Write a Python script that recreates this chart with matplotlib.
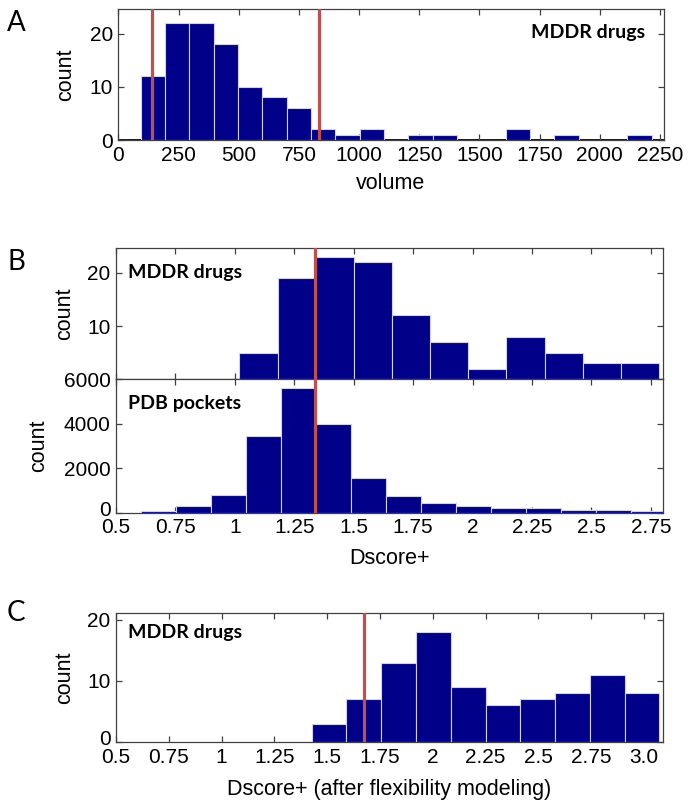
"""Recreate the three-panel volume / Dscore+ histogram figure."""

import matplotlib

matplotlib.use("Agg")
import matplotlib.pyplot as plt
import matplotlib.transforms as mtransforms
import numpy as np

plt.rcParams["font.family"] = ["Liberation Sans", "DejaVu Sans"]

# ---- data ----
VOLUME_COUNTS = [12, 22, 22, 18, 10, 8, 6, 2, 1, 2, 0, 1, 1, 0, 0, 2, 0, 1, 0, 0, 1]
VOLUME_RANGE = (92, 2215)
VOLUME_CUTOFFS = [140, 835]

DRUG_COUNTS = [5, 19, 23, 22, 12, 7, 2, 8, 5, 3, 3]
DRUG_RANGE = (1.019, 2.785)

POCKET_COUNTS = [70, 300, 780, 3430, 5600, 4000, 1540, 740, 415, 300, 220, 220, 120, 120, 60]
POCKET_RANGE = (0.604, 2.815)

DSCORE_CUTOFF = 1.336

FLEX_COUNTS = [3, 7, 13, 18, 9, 6, 7, 8, 11, 8]
FLEX_RANGE = (1.426, 3.073)
FLEX_CUTOFF = 1.676

DSCORE_TICKS = [0.5, 0.75, 1, 1.25, 1.5, 1.75, 2, 2.25, 2.5, 2.75]
DSCORE_TICK_LABELS = ["0.5", "0.75", "1", "1.25", "1.5", "1.75", "2", "2.25", "2.5", "2.75"]
FLEX_TICKS = [0.5, 0.75, 1, 1.25, 1.5, 1.75, 2, 2.25, 2.5, 2.75, 3.0]
FLEX_TICK_LABELS = ["0.5", "0.75", "1", "1.25", "1.5", "1.75", "2", "2.25", "2.5", "2.75", "3.0"]

BAR_COLOR = "#000088"
EDGE_COLOR = "#d0d0f4"
RED = "#c0504d"
SPINE = "#404040"
TICK_FS = 15
LABEL_FS = 15.5


def hist_bars(ax, counts, value_range):
    edges = np.linspace(value_range[0], value_range[1], len(counts) + 1)
    ax.bar(edges[:-1], counts, width=np.diff(edges), align="edge",
           color=BAR_COLOR, edgecolor=EDGE_COLOR, linewidth=0.8, zorder=2)
    return edges


def style(ax):
    for s in ax.spines.values():
        s.set_color(SPINE)
        s.set_linewidth(0.9)
    ax.tick_params(direction="in", top=True, right=True, length=4,
                   width=0.9, color=SPINE, labelsize=TICK_FS)
    ax.tick_params(axis="x", pad=4)
    ax.tick_params(axis="y", pad=4)


def lift_zero_label(ax):
    # nudge the y "0" label up a little so it sits above the first x label
    fig = ax.figure
    shift = mtransforms.ScaledTranslation(0, 3 / 72, fig.dpi_scale_trans)
    lbl = ax.get_yticklabels()[0]
    lbl.set_transform(lbl.get_transform() + shift)


def labels(ax, xlabel, ylabel, xy, yx):
    if xlabel:
        ax.set_xlabel(xlabel, fontsize=LABEL_FS, va="center")
        ax.xaxis.set_label_coords(0.5, xy)
    ax.set_ylabel(ylabel, fontsize=LABEL_FS, va="center")
    ax.yaxis.set_label_coords(yx, 0.5)


def tag(ax, text, x, y, ha="left"):
    ax.text(x, y, text, transform=ax.transAxes, ha=ha, va="center",
            fontsize=14, fontweight="bold", family="Lato", zorder=5)


fig = plt.figure(figsize=(6.95, 8.07), dpi=100)

# ---- panel A ----
axA = fig.add_axes([0.1704, 0.8265, 0.7844, 0.1623])
edges = hist_bars(axA, VOLUME_COUNTS, VOLUME_RANGE)
axA.axhline(0, color="black", lw=2.0, zorder=1)
axA.plot([edges[0], edges[-1]], [0, 0], color=BAR_COLOR, lw=2.0, zorder=1.5)
for v in VOLUME_CUTOFFS:
    axA.axvline(v, color=RED, lw=2.3, zorder=3)
axA.set_xlim(0, 2265)
axA.set_ylim(0, 24.6)
axA.set_xticks(range(0, 2251, 250))
axA.set_yticks([0, 10, 20])
style(axA)
labels(axA, "volume", "count", -0.33, -0.096)
tag(axA, "MDDR drugs", 0.966, 0.82, ha="right")

# ---- panel B ----
axB1 = fig.add_axes([0.167, 0.530, 0.7865, 0.1623])
axB2 = fig.add_axes([0.167, 0.3647, 0.7865, 0.1653])
hist_bars(axB1, DRUG_COUNTS, DRUG_RANGE)
hist_bars(axB2, POCKET_COUNTS, POCKET_RANGE)
for ax in (axB1, axB2):
    ax.axvline(DSCORE_CUTOFF, color=RED, lw=2.3, zorder=3)
    ax.set_xlim(0.5, 2.8)
    ax.set_xticks(DSCORE_TICKS)
    style(ax)
axB1.set_xticklabels([])
axB1.set_ylim(0, 24.6)
axB1.set_yticks([10, 20])
axB2.set_ylim(0, 6000)
axB2.set_yticks([0, 2000, 4000, 6000])
axB2.set_xticklabels(DSCORE_TICK_LABELS)
lift_zero_label(axB2)
labels(axB1, None, "count", 0, -0.094)
labels(axB2, "Dscore+", "count", -0.347, -0.142)
tag(axB1, "MDDR drugs", 0.022, 0.815)
tag(axB2, "PDB pockets", 0.022, 0.82)

# ---- panel C ----
axC = fig.add_axes([0.167, 0.0805, 0.787, 0.1599])
hist_bars(axC, FLEX_COUNTS, FLEX_RANGE)
axC.axvline(FLEX_CUTOFF, color=RED, lw=2.3, zorder=3)
axC.set_xlim(0.5, 3.09)
axC.set_ylim(0, 21.1)
axC.set_xticks(FLEX_TICKS)
axC.set_xticklabels(FLEX_TICK_LABELS)
axC.set_yticks([0, 10, 20])
style(axC)
lift_zero_label(axC)
labels(axC, "Dscore+ (after flexibility modeling)", "count", -0.364, -0.094)
tag(axC, "MDDR drugs", 0.022, 0.85)

# ---- panel letters ----
for letter, y in (("A", 23), ("B", 262), ("C", 613)):
    fig.text(16 / 695, 1 - y / 807, letter, ha="center", va="center",
             fontsize=20, family="Lato")

fig.savefig("out.png", dpi=100)
